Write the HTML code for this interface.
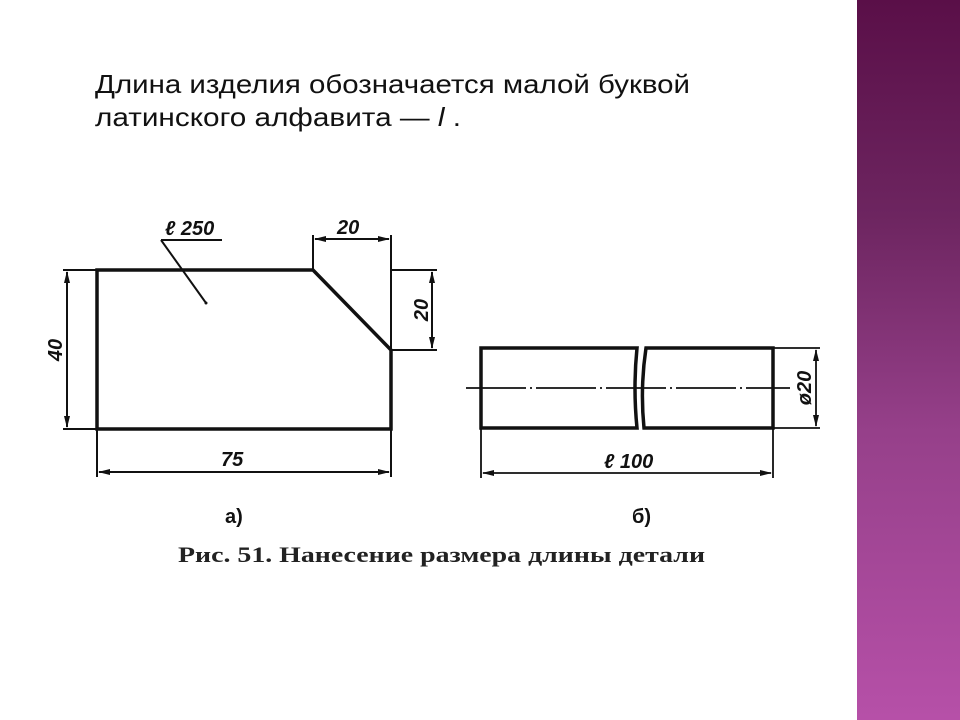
<!DOCTYPE html>
<html><head><meta charset="utf-8"><style>
html,body{margin:0;padding:0;background:#fff;width:960px;height:720px;overflow:hidden;position:relative}
.bar{position:absolute;left:857px;top:0;width:103px;height:720px;background:linear-gradient(#5a0f48,#6d2560 30%,#96408a 60%,#b650a8)}
</style></head><body>
<div class="bar"></div>
<svg width="960" height="720" style="position:absolute;left:0;top:0" font-family="Liberation Sans, DejaVu Sans, sans-serif">
<g font-size="26" fill="#111">
<text x="95" y="93" textLength="595" lengthAdjust="spacingAndGlyphs">Длина изделия обозначается малой буквой</text>
<text x="95" y="126" textLength="366" lengthAdjust="spacingAndGlyphs">латинского алфавита — <tspan font-style="italic">l</tspan> .</text>
</g>
<g stroke="#111" fill="none">
<path d="M97,270H313L391,350V429H97Z" stroke-width="3.5"/>
<g stroke-width="2">
<path d="M63,270H97M63,429H97M313,270V235M391,350V235M391,270H437M391,350H437M97,429V477M391,429V477"/>
<path d="M67,272V427M432,272V348M315,239H389M99,472H389"/>
<path d="M161,240H222M161,240L206,303"/>
</g>
<path d="M481,348H637Q633,388 637,428H481Z M646,348H773V428H644Q640,388 646,348Z" stroke-width="3.5"/>
<g stroke-width="1.8">
<path d="M466,388H790" stroke-dasharray="60 4 2 4"/>
<path d="M773,348H820M773,428H820M481,428V478M773,428V478"/>
<path d="M816,350V426M483,473H771"/>
</g></g>
<g fill="#111">
<path d="M67,271l-3,12h6zM67,428l-3,-12h6zM432,271l-3,12h6zM432,349l-3,-12h6zM314,239l12,-3v6zM390,239l-12,-3v6zM98,472l12,-3v6zM390,472l-12,-3v6zM816,349l-3,12h6zM816,427l-3,-12h6zM482,473l12,-3v6zM772,473l-12,-3v6z"/>
<circle cx="206" cy="303" r="1.5"/>
</g>
<g fill="#111" font-style="italic" font-weight="bold" font-size="20">
<text x="165" y="235">ℓ 250</text>
<text x="337" y="234">20</text>
<text x="221" y="466">75</text>
<text x="604" y="468">ℓ 100</text>
<text transform="translate(62,350) rotate(-90)" text-anchor="middle">40</text>
<text transform="translate(428,310) rotate(-90)" text-anchor="middle">20</text>
<text transform="translate(811,388) rotate(-90)" text-anchor="middle">ø20</text>
</g>
<text x="225" y="523" font-size="20" font-weight="bold" fill="#111">а)</text>
<text x="632" y="523" font-size="20" font-weight="bold" fill="#111">б)</text>
<text x="178" y="562" font-family="Liberation Serif, serif" font-weight="bold" font-size="22" fill="#222" textLength="527" lengthAdjust="spacingAndGlyphs">Рис. 51. Нанесение размера длины детали</text>
</svg>
</body></html>
